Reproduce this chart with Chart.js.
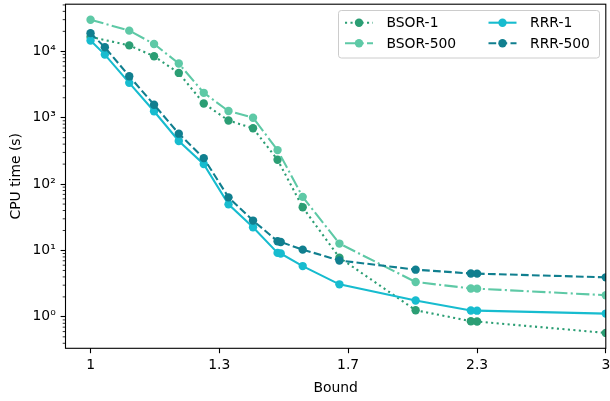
<!DOCTYPE html>
<html>
<head>
<meta charset="utf-8">
<title>CPU time vs bound</title>
<script src="https://cdn.jsdelivr.net/npm/chart.js@4.4.1/dist/chart.umd.min.js"></script>
<style>
  html, body { margin: 0; padding: 0; background: #fff; }
  #wrap { width: 610px; height: 401px; }
</style>
</head>
<body>
<div id="wrap"><canvas id="chart" width="610" height="401"></canvas></div>
<script>
// x values (bound) for each method family
const bsorBounds = [1, 1.086, 1.145, 1.207, 1.273, 1.342, 1.414, 1.49, 1.572, 1.7, 2.0, 2.25, 2.28, 3];
const rrrBounds = [1, 1.031, 1.086, 1.145, 1.207, 1.273, 1.342, 1.414, 1.49, 1.5, 1.572, 1.7, 2.0, 2.25, 2.28, 3];

// CPU time (s)
const bsor1Times = [16500, 12300, 8420, 4730, 1640, 908, 693, 233, 44.7, 7.8, 1.26, 0.86, 0.85, 0.573];
const bsor500Times = [29900, 20500, 12900, 6550, 2370, 1260, 1000, 325, 64.2, 12.7, 3.35, 2.68, 2.66, 2.12];
const rrr1Times = [14600, 8930, 3350, 1250, 447, 200, 49.5, 22.4, 9.2, 9.0, 5.82, 3.09, 1.76, 1.25, 1.24, 1.12];
const rrr500Times = [18800, 11500, 4220, 1570, 575, 246, 63.1, 28.2, 13.8, 13.4, 10.3, 7.08, 5.14, 4.5, 4.48, 3.94];

const seriesLabels = ['BSOR-1', 'BSOR-500', 'RRR-1', 'RRR-500'];

// axis ticks
const xTickValues = [1, 1.316, 1.732, 2.280, 3];
const xTickLabels = ['1', '1.3', '1.7', '2.3', '3'];
const yTickValues = [1, 10, 100, 1000, 10000];
const yTickLabels = ['10\u2070', '10\u00b9', '10\u00b2', '10\u00b3', '10\u2074'];

const FONT = "'DejaVu Sans', sans-serif";
const FONT_SIZE = 13.9;

const toPoints = (xs, ys) => xs.map((x, i) => ({ x: x, y: ys[i] }));

function makeSeries(label, xs, ys, color, dash, order) {
    return {
        label: label,
        data: toPoints(xs, ys),
        borderColor: color,
        backgroundColor: color,
        borderWidth: 2.1,
        borderDash: dash,
        borderCapStyle: 'butt',
        pointRadius: 4.2,
        pointHoverRadius: 4.2,
        pointBorderWidth: 0,
        pointBackgroundColor: color,
        tension: 0,
        fill: false,
        clip: 0,
        order: order
    };
}

const datasets = [
    makeSeries(seriesLabels[0], bsorBounds, bsor1Times, '#2b9e74', [2.1, 3.4], 3),
    makeSeries(seriesLabels[1], bsorBounds, bsor500Times, '#5ec9a6', [13.3, 3.3, 2.1, 3.3], 2),
    makeSeries(seriesLabels[2], rrrBounds, rrr1Times, '#17bccf', [], 1),
    makeSeries(seriesLabels[3], rrrBounds, rrr500Times, '#107f8f', [7.7, 3.3], 0)
];

// spines, minor ticks and the two-column legend
const decorPlugin = {
    id: 'decor',
    afterDatasetsDraw(chart) {
        const { ctx, chartArea: a, scales: { y } } = chart;
        ctx.save();

        // minor log ticks on the y axis
        ctx.strokeStyle = '#000';
        ctx.lineWidth = 0.8;
        for (let e = -1; e <= 4; e++) {
            for (let m = 2; m <= 9; m++) {
                const v = m * Math.pow(10, e);
                if (v < y.min || v > y.max) continue;
                const py = y.getPixelForValue(v);
                ctx.beginPath();
                ctx.moveTo(a.left - 2.8, py);
                ctx.lineTo(a.left, py);
                ctx.stroke();
            }
        }

        // frame
        ctx.lineWidth = 1.1;
        ctx.strokeRect(a.left, a.top, a.right - a.left, a.bottom - a.top);

        // legend box
        const box = { x: 338.5, y: 10.5, w: 261, h: 47.5, r: 2.8 };
        ctx.beginPath();
        ctx.roundRect(box.x, box.y, box.w, box.h, box.r);
        ctx.fillStyle = 'rgba(255,255,255,0.8)';
        ctx.fill();
        ctx.strokeStyle = '#cccccc';
        ctx.lineWidth = 1;
        ctx.stroke();

        const cols = [345, 488.5];
        const rows = [22.7, 43.3];
        const handleLen = 28;
        ctx.font = FONT_SIZE + 'px ' + FONT;
        ctx.textBaseline = 'middle';
        ctx.textAlign = 'left';
        chart.data.datasets.forEach((ds, i) => {
            const hx = cols[Math.floor(i / 2)];
            const hy = rows[i % 2];
            ctx.strokeStyle = ds.borderColor;
            ctx.lineWidth = ds.borderWidth;
            ctx.lineCap = 'butt';
            ctx.setLineDash(ds.borderDash);
            ctx.beginPath();
            ctx.moveTo(hx, hy);
            ctx.lineTo(hx + handleLen, hy);
            ctx.stroke();
            ctx.setLineDash([]);
            ctx.fillStyle = ds.borderColor;
            ctx.beginPath();
            ctx.arc(hx + handleLen / 2, hy, ds.pointRadius, 0, Math.PI * 2);
            ctx.fill();
            ctx.fillStyle = '#000';
            ctx.fillText(ds.label, hx + handleLen + 13.5, hy + 1);
        });

        ctx.restore();
    }
};

const ctx = document.getElementById('chart').getContext('2d');

new Chart(ctx, {
    type: 'line',
    data: { datasets: datasets },
    plugins: [decorPlugin],
    options: {
        responsive: false,
        animation: false,
        devicePixelRatio: 1,
        layout: { padding: { top: 2.7, right: 3, left: 0, bottom: 0 } },
        plugins: {
            legend: { display: false },
            tooltip: { enabled: false }
        },
        scales: {
            x: {
                type: 'logarithmic',
                min: 0.948,
                max: 3,
                bounds: 'data',
                afterBuildTicks: scale => {
                    scale.ticks = xTickValues.map(v => ({ value: v }));
                },
                afterFit: scale => {
                    scale.height = 52.7;
                    scale.paddingLeft = 0;
                    scale.paddingRight = 0;
                },
                ticks: {
                    autoSkip: false,
                    maxRotation: 0,
                    padding: 4,
                    color: '#000',
                    font: { family: FONT, size: FONT_SIZE },
                    callback: (value, index) => xTickLabels[index]
                },
                grid: {
                    drawOnChartArea: false,
                    drawTicks: true,
                    tickLength: 4.9,
                    tickWidth: 1.1,
                    tickColor: '#000'
                },
                border: { display: false },
                title: {
                    display: true,
                    text: 'Bound',
                    color: '#000',
                    font: { family: FONT, size: FONT_SIZE },
                    padding: { top: 0, bottom: 4.5 }
                }
            },
            y: {
                type: 'logarithmic',
                min: 0.336,
                max: 51300,
                bounds: 'data',
                afterBuildTicks: scale => {
                    scale.ticks = yTickValues.map(v => ({ value: v }));
                },
                afterFit: scale => {
                    scale.width = 65.5;
                    scale.paddingTop = 0;
                    scale.paddingBottom = 0;
                },
                ticks: {
                    autoSkip: false,
                    padding: 4.9,
                    color: '#000',
                    font: { family: FONT, size: FONT_SIZE },
                    callback: (value, index) => yTickLabels[index]
                },
                grid: {
                    drawOnChartArea: false,
                    drawTicks: true,
                    tickLength: 4.9,
                    tickWidth: 1.1,
                    tickColor: '#000'
                },
                border: { display: false },
                title: {
                    display: true,
                    text: 'CPU time (s)',
                    color: '#000',
                    font: { family: FONT, size: FONT_SIZE },
                    padding: { top: 8, bottom: 0 }
                }
            }
        }
    }
});
</script>
</body>
</html>
